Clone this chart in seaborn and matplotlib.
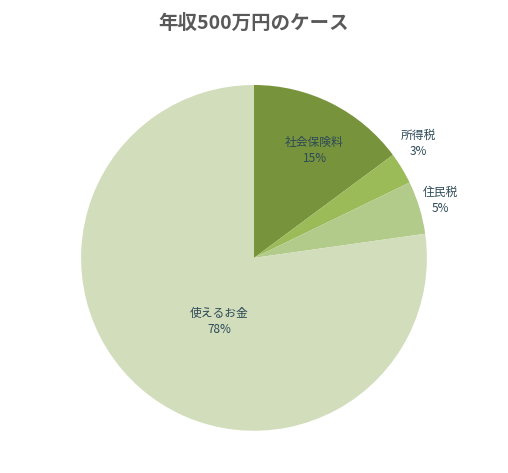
import matplotlib
matplotlib.use("Agg")
import matplotlib.pyplot as plt
import seaborn as sns

# Data.
categories = ["社会保険料", "所得税", "住民税", "使えるお金"]
shares = [15, 3, 5, 78]
pct_labels = ["15%", "3%", "5%", "78%"]
colors = ["#77933C", "#9BBB59", "#B3CB8A", "#D1DDBB"]

sns.set_theme(style="white")
plt.rcParams["font.family"] = ["Noto Sans CJK JP", "DejaVu Sans"]

fig = plt.figure(figsize=(5.08, 4.73), dpi=100)
fig.patch.set_facecolor("white")
ax = fig.add_axes([0.5 - 0.3405, 0.455 - 0.3657, 0.681, 0.731])
ax.pie(shares, colors=colors, startangle=90, counterclock=False,
       wedgeprops=dict(linewidth=0))
ax.set_xlim(-1, 1)
ax.set_ylim(-1, 1)
ax.set_aspect("equal")

# Label positions (in pie radius units).
label_pos = [(0.35, 0.62), (0.95, 0.66), (1.08, 0.33), (-0.2, -0.37)]
for name, pct, (x, y) in zip(categories, pct_labels, label_pos):
    ax.text(x, y, f"{name}\n{pct}", ha="center", va="center",
            fontsize=8.5, color="#2E4A58", linespacing=1.3, clip_on=False)

fig.text(0.5, 0.95, "年収500万円のケース", ha="center", va="center",
         fontsize=14, fontweight="bold", color="#595959")

fig.savefig("out.png", dpi=100)
